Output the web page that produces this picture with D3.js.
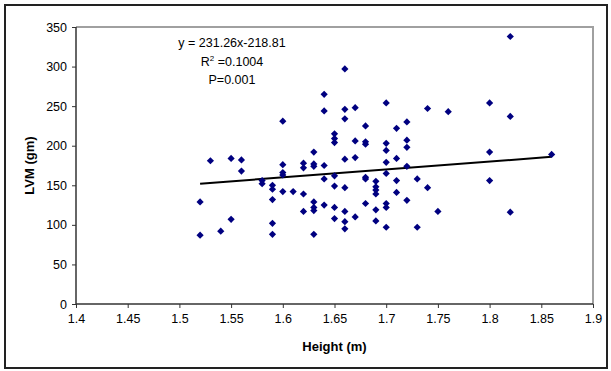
<!DOCTYPE html>
<html>
<head>
<meta charset="utf-8">
<script src="https://cdn.jsdelivr.net/npm/d3@7"></script>
<style>
  html, body { margin: 0; padding: 0; background: #fff; }
  svg { display: block; }
  text { font-family: "Liberation Sans", Arial, sans-serif; }
</style>
</head>
<body>
<svg id="chart" width="611" height="371"></svg>
<script>
// Data: height (m) and LVM (gm)
const heights = [
  1.52, 1.52,
  1.53,
  1.54,
  1.55, 1.55,
  1.56, 1.56,
  1.58, 1.58,
  1.59, 1.59, 1.59, 1.59, 1.59,
  1.60, 1.60, 1.60, 1.60, 1.60,
  1.61,
  1.62, 1.62, 1.62, 1.62,
  1.63, 1.63, 1.63, 1.63, 1.63, 1.63, 1.63,
  1.64, 1.64, 1.64, 1.64, 1.64,
  1.65, 1.65, 1.65, 1.65, 1.65, 1.65, 1.65,
  1.66, 1.66, 1.66, 1.66, 1.66, 1.66, 1.66, 1.66,
  1.67, 1.67, 1.67, 1.67,
  1.68, 1.68, 1.68, 1.68, 1.68, 1.68,
  1.69, 1.69, 1.69, 1.69, 1.69, 1.69,
  1.70, 1.70, 1.70, 1.70, 1.70, 1.70, 1.70, 1.70,
  1.71, 1.71, 1.71, 1.71,
  1.72, 1.72, 1.72, 1.72, 1.72,
  1.73, 1.73,
  1.74, 1.74,
  1.75,
  1.76,
  1.80, 1.80, 1.80,
  1.82, 1.82, 1.82,
  1.86
];
const lvm = [
  129, 87,
  181,
  92,
  184, 107,
  182, 168,
  156, 152,
  150, 145, 132, 102, 88,
  231, 176, 166, 163, 142,
  142,
  178, 172, 139, 117,
  192, 177, 174, 129, 122, 118, 88,
  265, 244, 175, 158, 125,
  215, 209, 204, 162, 149, 122, 108,
  297, 246, 234, 183, 147, 117, 104, 95,
  248, 206, 185, 110,
  225, 205, 202, 160, 158, 127,
  155, 148, 144, 139, 119, 105,
  254, 203, 194, 179, 165, 127, 122, 97,
  222, 184, 156, 141,
  230, 207, 198, 174, 131,
  158, 97,
  247, 147,
  117,
  243,
  254, 192, 156,
  338, 237, 116,
  189
];
// Trend line as drawn (endpoints)
const trendX = [1.52, 1.86];
const trendY = [152, 186];
// Tick labels
const xTicks = [1.4, 1.45, 1.5, 1.55, 1.6, 1.65, 1.7, 1.75, 1.8, 1.85, 1.9];
const yTicks = [0, 50, 100, 150, 200, 250, 300, 350];
const annotation = ["y = 231.26x-218.81", "R2 =0.1004", "P=0.001"];

const svg = d3.select("#chart");
const mLeft = 76, mRight = 593, mTop = 27, mBottom = 304;

const x = d3.scaleLinear().domain([1.4, 1.9]).range([mLeft, mRight]);
const y = d3.scaleLinear().domain([0, 350]).range([mBottom, mTop]);

// outer chart border
svg.append("rect")
  .attr("x", 5).attr("y", 5).attr("width", 602).attr("height", 363)
  .attr("fill", "#fff").attr("stroke", "#222").attr("stroke-width", 2);

// plot area frame (top & right gray)
svg.append("path")
  .attr("d", `M${mLeft},${mTop}H${mRight}V${mBottom}`)
  .attr("fill", "none").attr("stroke", "#a0a0a0").attr("stroke-width", 2);

// axes
const xAxis = d3.axisBottom(x).tickValues(xTicks).tickSize(4).tickPadding(6)
  .tickFormat(d => String(+d.toFixed(2)));
const gx = svg.append("g").attr("transform", `translate(0,${mBottom})`).call(xAxis);
const yAxis = d3.axisLeft(y).tickValues(yTicks).tickSize(4).tickPadding(5);
const gy = svg.append("g").attr("transform", `translate(${mLeft},0)`).call(yAxis);
[gx, gy].forEach(g => {
  g.select(".domain").attr("stroke", "#333").attr("stroke-width", 1.5);
  g.selectAll(".tick line").attr("stroke", "#333");
  g.selectAll(".tick text").attr("fill", "#000")
    .style("font-family", '"Liberation Sans", Arial, sans-serif')
    .style("font-size", "12.5px");
});
gx.select(".domain").attr("d", `M${mLeft},0H${mRight}`);
gy.select(".domain").attr("d", `M0,${mBottom}V${mTop}`);

// axis titles
svg.append("text")
  .attr("x", (mLeft + mRight) / 2).attr("y", 351)
  .attr("text-anchor", "middle").attr("font-weight", "bold").attr("font-size", "13px")
  .text("Height (m)");
svg.append("text")
  .attr("transform", `translate(34,${(mTop + mBottom) / 2}) rotate(-90)`)
  .attr("text-anchor", "middle").attr("font-weight", "bold").attr("font-size", "13px")
  .text("LVM (gm)");

// trend line
svg.append("line")
  .attr("x1", x(trendX[0])).attr("y1", y(trendY[0]))
  .attr("x2", x(trendX[1])).attr("y2", y(trendY[1]))
  .attr("stroke", "#000").attr("stroke-width", 2);

// points (diamonds)
svg.append("g").selectAll("path")
  .data(heights.map((h, i) => [h, lvm[i]]))
  .join("path")
  .attr("transform", d => `translate(${x(d[0])},${y(d[1])}) rotate(45)`)
  .attr("d", d3.symbol().type(d3.symbolSquare).size(26))
  .attr("fill", "#000080");

// annotation
const ann = svg.append("text").attr("text-anchor", "middle").attr("font-size", "12.5px").attr("fill", "#000");
ann.append("tspan").attr("x", 232).attr("y", 47).text(annotation[0]);
const l2 = ann.append("tspan").attr("x", 232).attr("y", 66);
l2.append("tspan").text("R");
l2.append("tspan").attr("dy", -5).attr("font-size", "8px").text("2");
l2.append("tspan").attr("dy", 5).text(" =0.1004");
ann.append("tspan").attr("x", 232).attr("y", 84).text(annotation[2]);
</script>
</body>
</html>
